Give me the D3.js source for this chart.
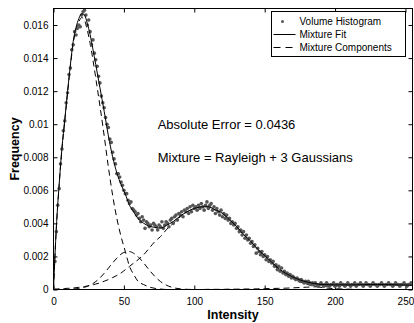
<!DOCTYPE html>
<html>
<head>
<meta charset="utf-8">
<script src="https://d3js.org/d3.v7.min.js"></script>
<style>
body { margin: 0; background: #fff; }
svg text { font-family: "Liberation Sans", Arial, Helvetica, sans-serif; fill: #000; }
</style>
</head>
<body>
<div class="mainCont"></div>
<script>
// volume histogram, one value per intensity 0..255
var histogram = [
    .00005,
    .0017, .0035, .0051, .0061, .0076, .0085, .0096, .0102, .0113, .0119, .0130, .0134, .0145, .0148,
    .0156, .0154, .0158, .0160, .0159, .0166, .0168, .0169, .0166, .0160, .0163, .0156, .0148, .0151, .0143, .0139,
    .0135, .0129, .0125, .0117, .0113, .0110, .0104, .0100, .0098, .0091, .0089, .0083, .0079, .0076, .0070, .0070, .0068, .0065, .0063, .0060,
    .0058, .0058, .0054, .0052, .0053, .0049, .0048, .0047, .0045, .0046, .0043, .0041, .0044, .0042, .0037, .0041, .0040, .0038, .0039, .0036,
    .0040, .0039, .0038, .0036, .0039, .0038, .0041, .0037, .0039, .0041, .0040, .0038, .0042, .0043, .0040, .0044, .0045, .0042, .0046, .0045,
    .0047, .0044, .0048, .0047, .0049, .0046, .0050, .0047, .0051, .0049, .0050, .0048, .0051, .0049, .0052, .0050, .0048, .0051, .0053, .0049,
    .0051, .0052, .0048, .0050, .0046, .0049, .0047, .0045, .0048, .0044, .0046, .0043, .0045, .0042, .0043, .0040, .0041, .0039, .0040, .0037,
    .0038, .0035, .0036, .0033, .0035, .0031, .0033, .0030, .0031, .0028, .0029, .0026, .0027, .0022, .0025, .0023, .0021, .0023, .0020, .0021,
    .0018, .0020, .0017, .0018, .0016, .0017, .0014, .0015, .0012, .0014, .0011, .0013, .0010, .0011, .0009, .0010, .0008, .0009, .0007, .0008,
    .0007, .0006, .0007, .0006, .0005, .0006, .0005, .0004, .0005, .0004, .0005, .0004, .0003, .0004, .0003, .0004, .0003, .0002, .0003, .0004,
    .0003, .0002, .0003, .0004, .0003, .0002, .0003, .0003, .0004, .0002, .0003, .0003, .0002, .0004, .0003, .0003, .0002, .0003, .0004, .0003,
    .0002, .0003, .0003, .0004, .0002, .0003, .0003, .0004, .0003, .0002, .0003, .0004, .0003, .0003, .0002, .0003, .0004, .0003, .0003, .0002,
    .0003, .0003, .0004, .0003, .0002, .0003, .0003, .0004, .0003, .0003, .0002, .0003, .0004, .0003, .0003, .0002, .0003, .0003, .0004, .0003,
    .0002, .0003, .0003, .0004, .0003
];

// intensities where the fitted curves were read
var grid = [0, 2, 4, 6, 8, 10, 12, 14, 16, 18, 20, 22, 24, 26, 28, 30,
    33, 36, 39, 42, 45, 48, 51, 54, 57, 60,
    64, 68, 72, 76, 80,
    85, 90, 95, 100, 105, 110, 115, 120, 125, 130, 135, 140, 145, 150, 155, 160, 165, 170, 175, 180,
    190, 200, 210, 220, 230, 240, 250, 255];

var rayleigh = [0, .0037, .0063, .0085, .0102, .0119, .0135, .0149, .0157, .0162, .01645, .0163, .0157, .0149, .0139, .0128,
    .0111, .0093, .0074, .0057, .0043, .0032, .0023, .0014, .0009, .0005,
    .0003, .00015, .00007, .00003, 0,
    0, 0, 0, 0, 0, 0, 0, 0, 0, 0, 0, 0, 0, 0, 0, 0, 0, 0, 0, 0,
    0, 0, 0, 0, 0, 0, 0, 0];

var gauss1 = [0, 0, 0, 0, 0, .00001, .00002, .00003, .00004, .00006, .00009, .00013, .00019, .00027, .00036, .00048,
    .0007, .00098, .00129, .00161, .0019, .00214, .00227, .00229, .00219, .00199,
    .00161, .00118, .00079, .00048, .00027,
    .00011, .00004, .00001, 0, 0, 0, 0, 0, 0, 0, 0, 0, 0, 0, 0, 0, 0, 0, 0, 0,
    0, 0, 0, 0, 0, 0, 0, 0];

var gauss2 = [.00003, .00003, .00004, .00005, .00006, .00007, .00008, .00009, .00011, .00013, .00015, .00018, .00021, .00025, .00028, .00033,
    .0004, .0005, .0006, .00072, .00085, .001, .0012, .0014, .0016, .0018,
    .0021, .0025, .0029, .0032, .0036,
    .004, .0044, .0047, .0049, .005, .005, .0048, .0046, .0042, .0038, .0033, .0029, .0024, .002, .0016, .0012, .0009, .00066, .00046, .00031,
    .00013, .00005, .00002, 0, 0, 0, 0, 0];

var gauss3 = [0, 0, 0, 0, 0, 0, 0, 0, 0, 0, 0, 0, 0, 0, 0, 0,
    0, 0, 0, 0, 0, 0, 0, 0, 0, 0,
    0, 0, 0, 0, 0,
    0, 0, 0, 0, 0, .00001, .00001, .00001, .00002, .00002, .00003, .00003, .00004, .00005, .00006, .00007, .00008, .0001, .00012, .00014,
    .00018, .00023, .00026, .00029, .0003, .00029, .00027, .00025];

var mixtureFit = [.00003, .00373, .00634, .00855, .01026, .01198, .0136, .01502, .01585, .01639, .01669, .01661, .0161, .01542, .01454, .01361,
    .0122, .01078, .00929, .00803, .00705, .00634, .00577, .00509, .00469, .00429,
    .00401, .00383, .00376, .00371, .00387,
    .00411, .00444, .00471, .0049, .005, .00501, .00481, .00461, .00422, .00382, .00333, .00293, .00244, .00205, .00166, .00127, .00098, .00076, .00058, .00045,
    .00031, .00028, .00028, .00029, .0003, .00029, .00027, .00025];

var xTicks = [0, 50, 100, 150, 200, 250];
var yTicks = [0, .002, .004, .006, .008, .01, .012, .014, .016];
var legendLabels = ["Volume Histogram", "Mixture Fit", "Mixture Components"];
var notes = ["Absolute Error = 0.0436", "Mixture = Rayleigh + 3 Gaussians"];

var margin = {
        top: 8.5,
        right: 1.5,
        bottom: 34,
        left: 53.5
    },
    width = 359,
    height = 281;

var x = d3.scaleLinear().domain([0, 255]).range([0, width]);
var y = d3.scaleLinear().domain([0, 0.017]).range([height, 0]);

var svg = d3.select(".mainCont").append("svg")
    .attr("width", 414)
    .attr("height", 323);

var g = svg.append("g")
    .attr("transform", "translate(" + margin.left + "," + margin.top + ")");

g.append("clipPath")
    .attr("id", "plotClip")
    .append("rect")
    .attr("width", width)
    .attr("height", height);

// axes, matlab style: ticks inside on all four sides
function tickLabel(d) {
    return String(+d.toFixed(3));
}

g.append("g")
    .attr("class", "axis")
    .attr("transform", "translate(0," + height + ")")
    .call(d3.axisBottom(x).tickValues(xTicks).tickSizeInner(-4).tickSizeOuter(0).tickPadding(8));

g.append("g")
    .attr("class", "axis")
    .call(d3.axisTop(x).tickValues(xTicks).tickSizeInner(-4).tickSizeOuter(0).tickFormat(""));

g.append("g")
    .attr("class", "axis")
    .call(d3.axisLeft(y).tickValues(yTicks).tickSizeInner(-4).tickSizeOuter(0).tickPadding(5).tickFormat(tickLabel));

g.append("g")
    .attr("class", "axis")
    .attr("transform", "translate(" + width + ",0)")
    .call(d3.axisRight(y).tickValues(yTicks).tickSizeInner(-4).tickSizeOuter(0).tickFormat(""));

g.selectAll(".axis .domain").remove();
g.selectAll(".axis line").attr("stroke", "#000");
g.selectAll(".axis text")
    .style("font-size", "10px")
    .attr("fill", "#000");

// curves
var plot = g.append("g").attr("clip-path", "url(#plotClip)");

function curveLine(values) {
    return d3.line()
        .x(function(d, i) { return x(grid[i]); })
        .y(function(d) { return y(d); })
        .curve(d3.curveMonotoneX)(values);
}

[rayleigh, gauss1, gauss2, gauss3].forEach(function(comp) {
    plot.append("path")
        .attr("d", curveLine(comp))
        .attr("fill", "none")
        .attr("stroke", "#000")
        .attr("stroke-width", 1)
        .attr("stroke-dasharray", "6,4");
});

plot.selectAll(".dot")
    .data(histogram)
    .enter().append("circle")
    .attr("class", "dot")
    .attr("cx", function(d, i) { return x(i); })
    .attr("cy", function(d) { return y(d); })
    .attr("r", 1.8)
    .attr("fill", "#555");

plot.append("path")
    .attr("d", curveLine(mixtureFit))
    .attr("fill", "none")
    .attr("stroke", "#000")
    .attr("stroke-width", 1);

// frame
g.append("rect")
    .attr("width", width)
    .attr("height", height)
    .attr("fill", "none")
    .attr("stroke", "#000")
    .attr("stroke-width", 1);

// annotations
g.selectAll(".note")
    .data(notes)
    .enter().append("text")
    .attr("class", "note")
    .attr("x", x(74))
    .attr("y", function(d, i) { return y(i === 0 ? 0.010 : 0.008); })
    .attr("dy", "0.35em")
    .style("font-size", "13px")
    .text(function(d) { return d; });

// axis titles
svg.append("text")
    .attr("x", margin.left + width / 2)
    .attr("y", 319)
    .attr("text-anchor", "middle")
    .style("font-size", "12.5px")
    .style("font-weight", "bold")
    .text("Intensity");

svg.append("text")
    .attr("transform", "translate(19," + (margin.top + height / 2) + ") rotate(-90)")
    .attr("text-anchor", "middle")
    .style("font-size", "12.5px")
    .style("font-weight", "bold")
    .text("Frequency");

// legend
var legend = svg.append("g").attr("transform", "translate(271.5,11.5)");

legend.append("rect")
    .attr("width", 134)
    .attr("height", 45)
    .attr("fill", "#fff")
    .attr("stroke", "#000")
    .attr("stroke-width", 1);

var rowY = [10, 23, 36];

legend.append("circle")
    .attr("cx", 11)
    .attr("cy", rowY[0])
    .attr("r", 1.5)
    .attr("fill", "#555");

legend.append("line")
    .attr("x1", 2).attr("x2", 24)
    .attr("y1", rowY[1]).attr("y2", rowY[1])
    .attr("stroke", "#000");

legend.append("line")
    .attr("x1", 2).attr("x2", 24)
    .attr("y1", rowY[2]).attr("y2", rowY[2])
    .attr("stroke", "#000")
    .attr("stroke-dasharray", "7,5");

legend.selectAll(".leglabel")
    .data(legendLabels)
    .enter().append("text")
    .attr("class", "leglabel")
    .attr("x", 28)
    .attr("y", function(d, i) { return rowY[i]; })
    .attr("dy", "0.35em")
    .style("font-size", "10px")
    .text(function(d) { return d; });
</script>
</body>
</html>
